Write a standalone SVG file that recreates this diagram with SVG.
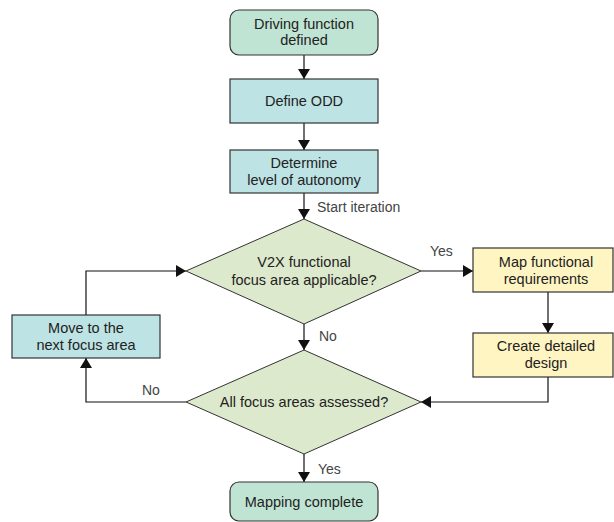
<svg xmlns="http://www.w3.org/2000/svg" width="614" height="522" viewBox="0 0 614 522">
<defs>
<marker id="ah" viewBox="0 0 10 12" refX="10" refY="6" markerWidth="10" markerHeight="12" markerUnits="userSpaceOnUse" orient="auto">
<path d="M0,0 L10,6 L0,12 z" fill="#111"/>
</marker>
<style>
.term{fill:#bfe4d3;stroke:#333;stroke-width:1.2}
.proc{fill:#bde3e4;stroke:#333;stroke-width:1.2}
.dec{fill:#dde9cc;stroke:#333;stroke-width:1}
.yel{fill:#fff5c3;stroke:#333;stroke-width:1.2}
.t{font-family:"Liberation Sans",Arial,sans-serif;font-size:14.5px;fill:#222;text-anchor:middle}
.lbl{font-family:"Liberation Sans",Arial,sans-serif;font-size:14px;fill:#444}
.c{fill:none;stroke:#111;stroke-width:1.2;marker-end:url(#ah)}
</style>
</defs>
<g id="connectors">
<path class="c" d="M304,55 V79"/>
<path class="c" d="M304,123 V150"/>
<path class="c" d="M304,193 V219"/>
<path class="c" d="M421,271 H473"/>
<path class="c" d="M548,292 V333"/>
<path class="c" d="M548,377 V402 H421"/>
<path class="c" d="M304,324 V350"/>
<path class="c" d="M186,402 H86 V358"/>
<path class="c" d="M86,315 V271 H186"/>
<path class="c" d="M304,454 V482"/>
<text class="lbl" x="317" y="212">Start iteration</text>
<text class="lbl" x="430" y="256">Yes</text>
<text class="lbl" x="319" y="341">No</text>
<text class="lbl" x="142" y="395">No</text>
<text class="lbl" x="318" y="474">Yes</text>
</g>
<g id="n1"><rect class="term" x="230" y="10" width="148" height="45" rx="9"/><text class="t" x="304" y="29">Driving function</text><text class="t" x="304" y="45">defined</text></g>
<g id="n2"><rect class="proc" x="230" y="79" width="148" height="44"/><text class="t" x="304" y="106">Define ODD</text></g>
<g id="n3"><rect class="proc" x="230" y="150" width="148" height="43"/><text class="t" x="304" y="168">Determine</text><text class="t" x="304" y="185">level of autonomy</text></g>
<g id="d1"><polygon class="dec" points="304,219 421,271 304,324 186,271"/><text class="t" x="304" y="267">V2X functional</text><text class="t" x="304" y="285">focus area applicable?</text></g>
<g id="n4"><rect class="yel" x="473" y="248" width="140" height="44"/><text class="t" x="546" y="267">Map functional</text><text class="t" x="546" y="284">requirements</text></g>
<g id="n5"><rect class="yel" x="473" y="333" width="140" height="44"/><text class="t" x="546" y="351">Create detailed</text><text class="t" x="546" y="368">design</text></g>
<g id="d2"><polygon class="dec" points="304,350 421,402 304,454 186,402"/><text class="t" x="304" y="407">All focus areas assessed?</text></g>
<g id="n6"><rect class="proc" x="12" y="315" width="148" height="43"/><text class="t" x="86" y="333">Move to the</text><text class="t" x="86" y="350">next focus area</text></g>
<g id="n7"><rect class="term" x="230" y="482" width="148" height="39" rx="9"/><text class="t" x="304" y="507">Mapping complete</text></g>
</svg>
